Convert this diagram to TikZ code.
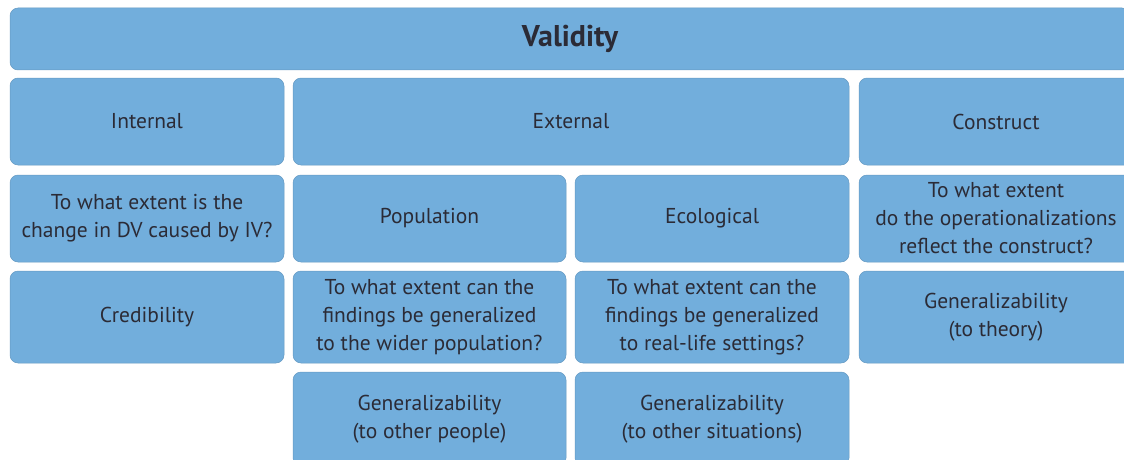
\documentclass[tikz,border=0pt]{standalone}
\usepackage{fontspec}
\setmainfont{PT Sans}
\definecolor{cellblue}{RGB}{114,174,220}
\definecolor{celltext}{RGB}{43,43,54}
\begin{document}
\begin{tikzpicture}[x=1pt,y=-1pt,line join=round]
	\tikzset{cell/.style={fill=cellblue,draw=cellblue!88!black,line width=0.5pt,rounded corners=8pt,
			inner sep=0pt,outer sep=0pt,align=center,text=celltext,
			font=\fontsize{21.5}{28}\selectfont}}
	\useasboundingbox (0,0) rectangle (1124,460);
	\clip (0,0) rectangle (1124,460);
	% top row
	\node[cell,minimum width=1120,minimum height=62,font=\fontsize{30}{32}\selectfont\bfseries] (validity) at (570,39) {Validity};
	% kinds
	\node[cell,minimum width=274,minimum height=87] (internal) at (147,121.5) {Internal};
	\node[cell,minimum width=556,minimum height=87] (external) at (571,121.5) {External};
	\node[cell,minimum width=274,minimum height=87] (construct) at (996,121.5) {Construct};
	% questions and subkinds
	\node[cell,minimum width=274,minimum height=87] (qinternal) at (147,218.5) {To what extent is the\\change in DV caused by IV?};
	\node[cell,minimum width=273,minimum height=87] (population) at (429.5,218.5) {Population};
	\node[cell,minimum width=274,minimum height=87] (ecological) at (712,218.5) {Ecological};
	\node[cell,minimum width=274,minimum height=87] (qconstruct) at (996,218.5) {To what extent\\do the operationalizations\\reflect the construct?};
	\node[cell,minimum width=274,minimum height=92] (credibility) at (147,317) {Credibility};
	\node[cell,minimum width=273,minimum height=92] (qpopulation) at (429.5,317) {To what extent can the\\findings be generalized\\to the wider population?};
	\node[cell,minimum width=274,minimum height=92] (qecological) at (712,317) {To what extent can the\\findings be generalized\\to real-life settings?};
	\node[cell,minimum width=274,minimum height=92] (gentheory) at (996,317) {Generalizability\\(to theory)};
	% bottom row
	\node[cell,minimum width=273,minimum height=94] (genpeople) at (429.5,419) {Generalizability\\(to other people)};
	\node[cell,minimum width=274,minimum height=94] (gensituations) at (712,419) {Generalizability\\(to other situations)};
\end{tikzpicture}
\end{document}
